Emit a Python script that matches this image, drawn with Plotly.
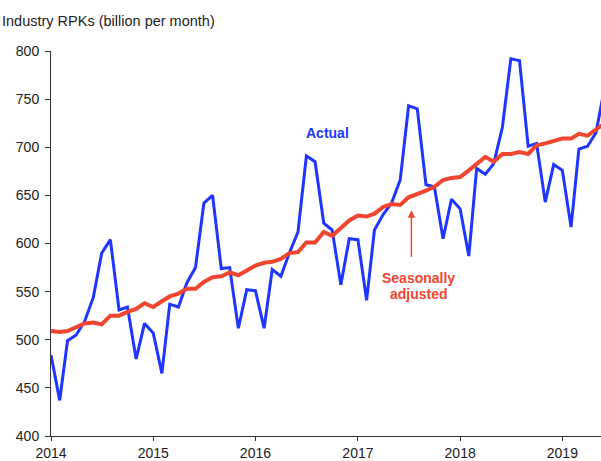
import plotly.graph_objects as go
import pandas as pd

months = pd.date_range("2014-01-01", periods=66, freq="MS").strftime("%Y-%m-%d").tolist()

actual = [
    484, 437, 499, 505, 519, 544, 590, 604, 531, 534, 480, 517,
    507, 465, 537, 534, 559, 575, 642, 650, 574, 575, 512, 552,
    551, 512, 573, 566, 590, 612, 691, 685, 621, 614, 557, 605,
    604, 541, 614, 630, 642, 666, 743, 740, 661, 659, 605, 646,
    636, 587, 678, 672, 683, 721, 792, 790, 701, 704, 643, 682,
    676, 617, 698, 701, 715, 762,
]

seasonally_adjusted = [
    509, 508, 509, 513, 517, 518, 516, 525, 525, 529, 532, 538,
    534, 540, 545, 548, 553, 553, 560, 565, 566, 570, 567, 572,
    577, 580, 581, 584, 590, 591, 601, 601, 612, 608, 616, 624,
    629, 628, 631, 638, 641, 640, 648, 651, 655, 659, 666, 668,
    669, 676, 683, 690, 685, 693, 693, 695, 693, 702, 704, 706,
    709, 709, 714, 712, 719, 725,
]

tick_years = ["2014-01-01", "2015-01-01", "2016-01-01", "2017-01-01", "2018-01-01", "2019-01-01"]
tick_year_labels = ["2014", "2015", "2016", "2017", "2018", "2019"]
y_ticks = [400, 450, 500, 550, 600, 650, 700, 750, 800]

BLUE = "#1E36FF"
RED = "#F0452F"
TXT = "#222222"
FONT = "Liberation Sans, Arial, sans-serif"

fig = go.Figure()
fig.add_trace(go.Scatter(x=months, y=actual, mode="lines",
                         line=dict(color=BLUE, width=3), name="Actual"))
fig.add_trace(go.Scatter(x=months, y=seasonally_adjusted, mode="lines",
                         line=dict(color=RED, width=4), name="Seasonally adjusted"))

fig.update_layout(
    width=601, height=461,
    margin=dict(l=51, r=0, t=51, b=25, autoexpand=False),
    paper_bgcolor="white", plot_bgcolor="white",
    showlegend=False,
    font=dict(family=FONT, size=14, color=TXT),
)
fig.update_xaxes(
    type="date",
    range=["2014-01-01", "2019-05-19"],
    tickvals=tick_years, ticktext=tick_year_labels,
    showgrid=False, zeroline=False,
    showline=True, linecolor="#333333", linewidth=1,
    ticks="outside", ticklen=4, tickcolor="#333333",
    tickfont=dict(size=14, color=TXT),
    automargin=False,
)
fig.update_yaxes(
    range=[400, 800],
    tickvals=y_ticks,
    showgrid=False, zeroline=False,
    showline=True, linecolor="#333333", linewidth=1,
    ticks="outside", ticklen=5, tickcolor="#333333",
    tickfont=dict(size=14, color=TXT),
    ticklabelstandoff=3,
    automargin=False,
)

fig.add_annotation(text="Industry RPKs (billion per month)", xref="paper", yref="paper",
                   x=-51/550, y=1 + 30/385, xanchor="left", yanchor="middle",
                   showarrow=False, font=dict(size=14.5, color=TXT))
fig.add_annotation(text="<b>Actual</b>", x="2016-09-15", y=715, xref="x", yref="y",
                   showarrow=False, font=dict(size=14, color=BLUE))
fig.add_annotation(text="<b>Seasonally</b>", x="2017-08-06", y=564.5, xref="x", yref="y",
                   showarrow=False, font=dict(size=14, color=RED))
fig.add_annotation(text="<b>adjusted</b>", x="2017-08-06", y=547.5, xref="x", yref="y",
                   showarrow=False, font=dict(size=14, color=RED))
fig.add_annotation(text="", x="2017-07-11", y=634.5, xref="x", yref="y",
                   showarrow=True, ax=0, ay=48, arrowhead=2, arrowsize=1,
                   arrowwidth=1.5, arrowcolor=RED, standoff=0)

fig.write_html(
    "out.html",
    config={"displayModeBar": False},
    post_script="document.body.style.margin='0';document.body.style.overflow='hidden';",
)
